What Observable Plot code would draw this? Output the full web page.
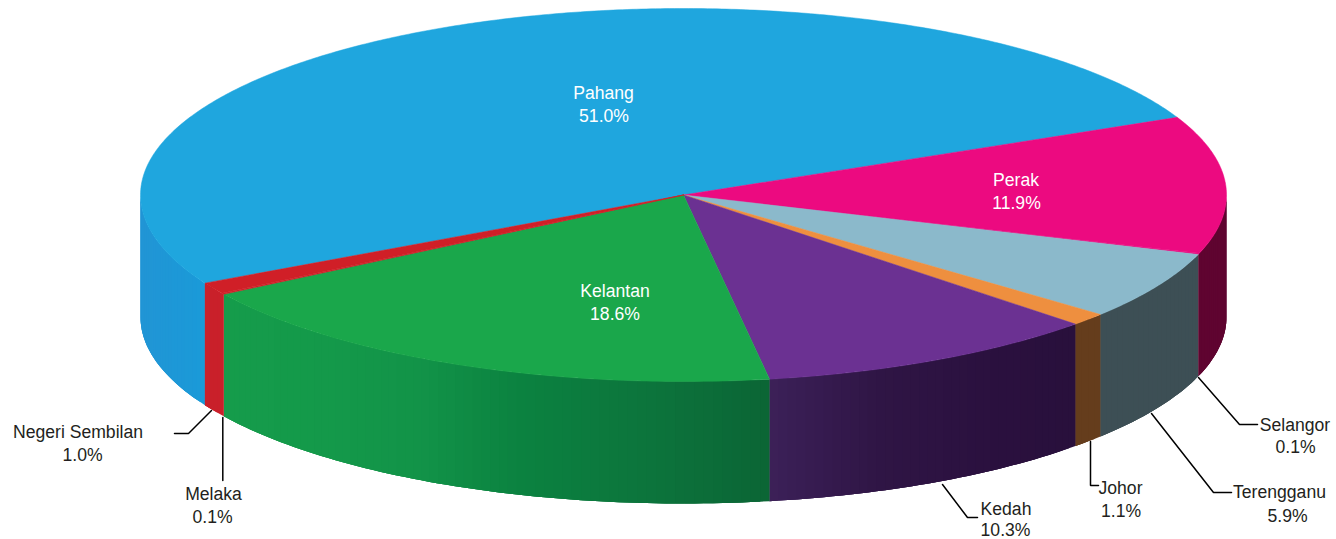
<!DOCTYPE html>
<html><head><meta charset="utf-8">
<script src="https://cdn.jsdelivr.net/npm/d3@7"></script>
<script src="https://cdn.jsdelivr.net/npm/@observablehq/plot@0.6"></script>
<style>html,body{margin:0;padding:0;background:#fff}svg{display:block}</style>
</head><body><div id="chart"></div>
<script>
// Data
const states = ["Pahang","Perak","Selangor","Terengganu","Johor","Kedah","Kelantan","Melaka","Negeri Sembilan"];
const shares = [51.0,11.9,0.1,5.9,1.1,10.3,18.6,0.1,1.0];
const topColors = ["#1fa6de","#ec0a80","#ec0a80","#8bb9cb","#ee8f3f","#6b3192","#1aa74b","#d01f27","#d01f27"];
// Side wall shading per state: [screen x, colour] stops
const wallShades = [
  [[141,"#2195d5"],[204,"#1a9ad8"]],
  [[1198,"#5f0430"],[1227,"#5f0430"]],
  [[1198,"#5f0430"],[1227,"#5f0430"]],
  [[1100,"#3d4f55"],[1198,"#3d4f55"]],
  [[1075,"#653d1c"],[1100,"#653d1c"]],
  [[770,"#3c2058"],[880,"#2f1545"],[1000,"#2a103e"],[1075,"#29103c"]],
  [[221,"#159c4b"],[330,"#14994a"],[420,"#129348"],[520,"#0b8240"],[650,"#0c743c"],[770,"#0b6535"]],
  [[204,"#c9202a"],[221,"#c9202a"]],
  [[204,"#c9202a"],[221,"#c9202a"]]
];
// Layout
const cx = 683, cy = 194.5, rx = 543, ry = 186.5, depth = 122, startDeg = 151.8;
const namePos = {Pahang:[603,93],Perak:[1015.5,180],Kelantan:[614.5,291],"Negeri Sembilan":[77.5,432],Melaka:[213,494],Kedah:[1005.5,508.5],Johor:[1120,488],Terengganu:[1279,492],Selangor:[1294.5,425]};
const valuePos = {Pahang:[603.5,116],Perak:[1016,203],Kelantan:[614.5,314],"Negeri Sembilan":[82,455],Melaka:[212,517],Kedah:[1005,529.5],Johor:[1120.5,511],Terengganu:[1287,516],Selangor:[1295,447]};
const insideLabels = ["Pahang","Perak","Kelantan"];
const leaderPaths = [
  [[174,433],[188,433],[211,410]],
  [[222.3,417],[222.3,480]],
  [[942,484],[967,517],[977,517]],
  [[1090,441],[1090,485],[1098,485]],
  [[1151,413],[1213,492],[1231,492]],
  [[1198,377],[1239,424],[1257,424]]
];

const rad = d => d * Math.PI / 180;
const ex = t => cx + rx * Math.cos(rad(t));
const ey = t => cy + ry * Math.sin(rad(t));

// Build angles from the shares (clockwise on screen, y down)
let acc = startDeg;
const slices = states.map((name, i) => {
  const a0 = acc; acc += shares[i] * 3.6;
  return {name, a0, a1: acc, color: topColors[i], shade: wallShades[i]};
});

const arcDegs = (a0, a1, step) => {
  const n = Math.max(1, Math.ceil((a1 - a0) / step));
  return d3.range(n + 1).map(k => a0 + (a1 - a0) * k / n);
};

const tops = slices.flatMap(s => [
  {id: s.name, x: cx, y: cy, c: s.color},
  ...arcDegs(s.a0, s.a1, 0.5).map(t => ({id: s.name, x: ex(t), y: ey(t), c: s.color})),
  {id: s.name, x: cx, y: cy, c: s.color}
]);

// The visible front of the drum is 0..180 degrees on screen.
// Each shading band overlaps the next ones so no seams show between them.
const walls = slices.flatMap(s => {
  const off = s.a0 >= 180 ? 360 : 0;
  const a0 = Math.max(s.a0 - off, 0), a1 = Math.min(s.a1 - off, 180);
  if (a1 <= a0) return [];
  const sc = d3.scaleLinear().domain(s.shade.map(d => d[0])).range(s.shade.map(d => d[1])).interpolate(d3.interpolateRgb).clamp(true);
  const ts = arcDegs(a0, a1, 1);
  return ts.slice(0, -1).flatMap((p, i) => {
    const span = ts.slice(i, i + 4);
    const c = sc((ex(ts[i]) + ex(ts[i + 1])) / 2), id = s.name + i;
    return [
      ...span.map(t => ({id, x: ex(t), y: ey(t), c})),
      ...span.slice().reverse().map(t => ({id, x: ex(t), y: ey(t) + depth, c}))
    ];
  });
});

const leaders = leaderPaths.flatMap((p, i) => p.map(([x, y]) => ({id: i, x, y})));
const textRows = (pos, fmt) => states.map((name, i) => ({
  name, x: pos[name][0], y: pos[name][1], t: fmt(name, i),
  f: insideLabels.includes(name) ? "#fff" : "#231f20"
}));

const chart = Plot.plot({
  width: 1336, height: 539,
  marginTop: 0, marginRight: 0, marginBottom: 0, marginLeft: 0,
  x: {axis: null, domain: [0, 1336], range: [0, 1336]},
  y: {axis: null, domain: [0, 539], range: [0, 539]},
  color: {type: "identity"},
  style: {fontFamily: "'Liberation Sans', Arial, sans-serif", background: "#fff"},
  marks: [
    Plot.line(walls, {x: "x", y: "y", z: "id", fill: "c", stroke: "none"}),
    Plot.line(tops, {x: "x", y: "y", z: "id", fill: "c", stroke: "c", strokeWidth: 0.5}),
    Plot.line(leaders, {x: "x", y: "y", z: "id", stroke: "#000", strokeWidth: 1.5, strokeLinejoin: "miter"}),
    Plot.text(textRows(namePos, n => n), {x: "x", y: "y", text: "t", fill: "f", fontSize: 17.6}),
    Plot.text(textRows(valuePos, (n, i) => shares[i].toFixed(1) + "%"), {x: "x", y: "y", text: "t", fill: "f", fontSize: 17.6})
  ]
});
document.getElementById("chart").append(chart);
</script></body></html>
